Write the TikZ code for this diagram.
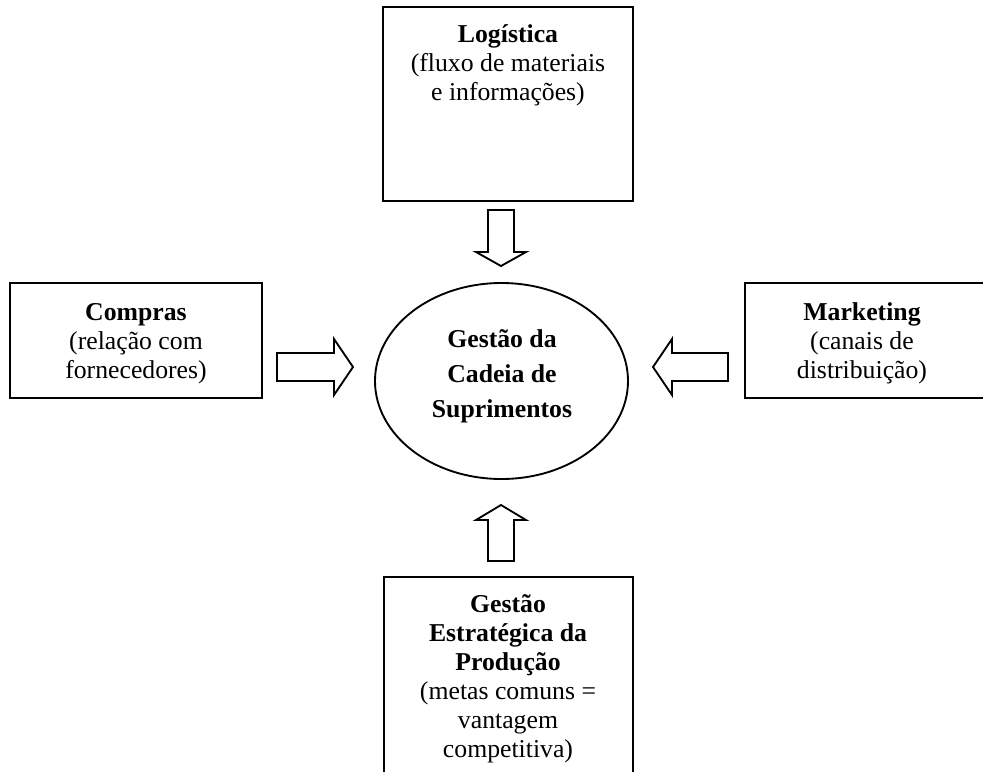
\documentclass[tikz,border=0pt]{standalone}
\usepackage{fontspec}
\setmainfont{Liberation Serif}
\usetikzlibrary{shapes.geometric}

\tikzset{
  box/.style={draw, line width=1.4pt, rectangle, inner sep=0pt},
  hub/.style={draw, line width=1.4pt, ellipse, inner sep=0pt},
  blockarrow/.style={draw, line width=1.4pt, line join=miter, fill=white},
  % multi-line labels: the base anchor sits on the baseline of the last line
  label/.style={align=center, anchor=base, inner sep=0pt,
    font=\fontsize{19.3pt}{21.75pt}\selectfont},
  hublabel/.style={align=center, anchor=base, inner sep=0pt,
    font=\fontsize{19.3pt}{26.25pt}\selectfont\bfseries},
}

\begin{document}
\begin{tikzpicture}[x=0.75pt, y=-0.75pt]
  \useasboundingbox (0,0) rectangle (983,772);
  \clip (0,0) rectangle (983,772);

  % outer boxes
  \node[box, minimum width=250*0.75pt, minimum height=194*0.75pt] (logbox) at (508,104) {};
  \node[box, minimum width=252*0.75pt, minimum height=115*0.75pt] (compbox) at (136,340.5) {};
  \node[box, minimum width=245*0.75pt, minimum height=115*0.75pt] (mktbox) at (867.5,340.5) {};
  \node[box, minimum width=249*0.75pt, minimum height=220*0.75pt] (prodbox) at (508.5,687) {};

  % central ellipse
  \node[hub, minimum width=253*0.75pt, minimum height=196*0.75pt] (hub) at (501.5,381) {};

  % texts
  \node[label] (logtxt) at (508,100.5) {\textbf{Logística}\\(fluxo de materiais\\e informações)};
  \node[label] (comptxt) at (136,378.5) {\textbf{Compras}\\(relação com\\fornecedores)};
  \node[label] (mkttxt) at (862,378.5) {\textbf{Marketing}\\(canais de\\distribuição)};
  \node[label] (prodtxt) at (508,757.5) {\textbf{Gestão}\\\textbf{Estratégica da}\\\textbf{Produção}\\(metas comuns =\\vantagem\\competitiva)};
  \node[hublabel] (hubtxt) at (502,417) {Gestão da\\Cadeia de\\Suprimentos};

  % block arrows towards the ellipse
  % from Logística (down)
  \draw[blockarrow] (488,210) -- (514,210) -- (514,252) -- (526,252) -- (501,266)
    -- (476,252) -- (488,252) -- cycle;
  % from Gestão Estratégica da Produção (up)
  \draw[blockarrow] (488,561) -- (514,561) -- (514,520) -- (526,520) -- (501,505)
    -- (476,520) -- (488,520) -- cycle;
  % from Compras (right)
  \draw[blockarrow] (277,353) -- (334,353) -- (334,339) -- (353,367) -- (334,395)
    -- (334,381) -- (277,381) -- cycle;
  % from Marketing (left)
  \draw[blockarrow] (728,353) -- (672,353) -- (672,339) -- (653,367) -- (672,395)
    -- (672,381) -- (728,381) -- cycle;
\end{tikzpicture}
\end{document}
